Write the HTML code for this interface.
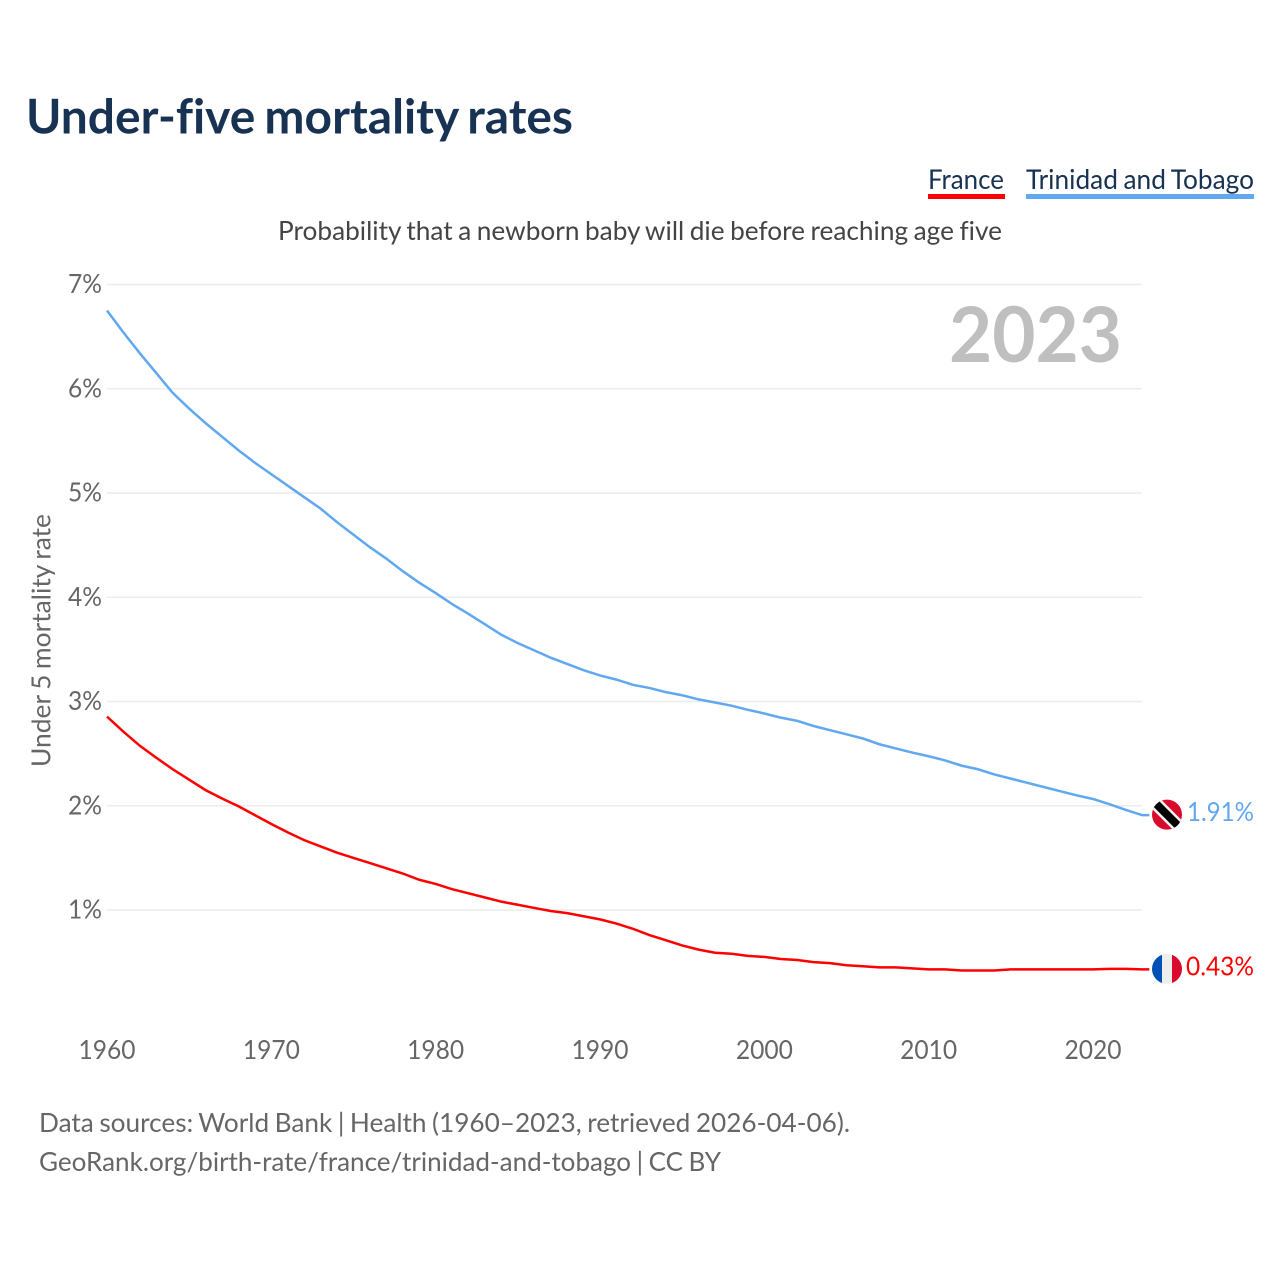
<!DOCTYPE html>
<html lang="en">
<head>
<meta charset="utf-8">
<title>Under-five mortality rates</title>
<style>
html,body{margin:0;padding:0;background:#fff}
svg{display:block}
text{font-family:"Lato","Carlito","Liberation Sans",sans-serif;font-variant-ligatures:none;font-feature-settings:"liga" 0,"clig" 0;word-spacing:-1.2px}
#title-text{word-spacing:-2.5px}
</style>
</head>
<body>
<svg id="chart" xmlns="http://www.w3.org/2000/svg" width="1280" height="1280" viewBox="0 0 1280 1280">
  <defs>
    <clipPath id="clip-tt"><circle cx="0" cy="0" r="15"/></clipPath>
    <clipPath id="clip-fr"><circle cx="0" cy="0" r="15"/></clipPath>
  </defs>
  <rect x="0" y="0" width="1280" height="1280" fill="#fff"/>
  <text id="title-text" x="26" y="133.5" font-size="48" font-weight="700" fill="#173252" textLength="547" lengthAdjust="spacingAndGlyphs">Under-five mortality rates</text>

  <g>
    <text x="928" y="189" font-size="27.5" fill="#173252" textLength="76" lengthAdjust="spacingAndGlyphs">France</text>
    <rect x="928" y="194" width="77" height="5" fill="#ff0000"/>
  </g>
  <g>
    <text x="1026" y="189" font-size="27.5" fill="#173252" textLength="228" lengthAdjust="spacingAndGlyphs">Trinidad and Tobago</text>
    <rect x="1026" y="194" width="228" height="5" fill="#60a8f0"/>
  </g>

  <text x="278" y="240" font-size="26.5" fill="#444" textLength="724" lengthAdjust="spacingAndGlyphs">Probability that a newborn baby will die before reaching age five</text>

  <g id="grid"></g>
  <g id="yticks"></g>
  <g id="xticks"></g>

  <text transform="translate(50.5,767) rotate(-90)" x="0" y="0" font-size="26.5" fill="#666" textLength="253" lengthAdjust="spacingAndGlyphs">Under 5 mortality rate</text>
  <text x="949" y="362" font-size="77" font-weight="700" fill="#bfbfbf" textLength="173" lengthAdjust="spacingAndGlyphs">2023</text>

  <g id="series"></g>

  <g id="flag-tt">
    <g clip-path="url(#clip-tt)">
      <rect x="-16" y="-16" width="32" height="32" fill="#da0a2c"/>
      <line x1="-18" y1="-18" x2="18" y2="18" stroke="#f2f2f2" stroke-width="13"/>
      <line x1="-18" y1="-18" x2="18" y2="18" stroke="#000" stroke-width="8"/>
    </g>
  </g>
  <g id="flag-fr">
    <g clip-path="url(#clip-fr)">
      <rect x="-15" y="-15" width="10" height="30" fill="#0051b5"/>
      <rect x="-5" y="-15" width="10" height="30" fill="#eeeeee"/>
      <rect x="5" y="-15" width="10" height="30" fill="#da0a2c"/>
    </g>
  </g>

  <g id="endlabels"></g>

  <text x="39" y="1132" font-size="26.5" fill="#666" textLength="811" lengthAdjust="spacingAndGlyphs">Data sources: World Bank | Health (1960–2023, retrieved 2026-04-06).</text>
  <text x="39" y="1171" font-size="26.5" fill="#666" textLength="682" lengthAdjust="spacingAndGlyphs">GeoRank.org/birth-rate/france/trinidad-and-tobago | CC BY</text>
</svg>
<script>
var years = [1960,1961,1962,1963,1964,1965,1966,1967,1968,1969,1970,1971,1972,1973,1974,1975,1976,1977,1978,1979,1980,1981,1982,1983,1984,1985,1986,1987,1988,1989,1990,1991,1992,1993,1994,1995,1996,1997,1998,1999,2000,2001,2002,2003,2004,2005,2006,2007,2008,2009,2010,2011,2012,2013,2014,2015,2016,2017,2018,2019,2020,2021,2022,2023];
var trinidadValues = [6.75,6.54,6.34,6.15,5.96,5.81,5.67,5.54,5.41,5.29,5.18,5.07,4.96,4.85,4.72,4.60,4.48,4.37,4.25,4.14,4.04,3.935,3.84,3.74,3.64,3.56,3.49,3.42,3.36,3.30,3.25,3.21,3.16,3.13,3.09,3.06,3.02,2.99,2.96,2.92,2.885,2.845,2.815,2.765,2.725,2.685,2.645,2.59,2.55,2.51,2.475,2.435,2.385,2.35,2.30,2.26,2.22,2.18,2.14,2.10,2.065,2.015,1.96,1.91];
var franceValues = [2.855,2.71,2.575,2.46,2.35,2.25,2.15,2.07,1.995,1.91,1.825,1.745,1.67,1.61,1.55,1.50,1.45,1.40,1.35,1.29,1.25,1.20,1.16,1.12,1.08,1.05,1.02,0.99,0.97,0.94,0.91,0.87,0.82,0.76,0.71,0.66,0.62,0.59,0.58,0.56,0.55,0.53,0.52,0.50,0.49,0.47,0.46,0.45,0.45,0.44,0.43,0.43,0.42,0.42,0.42,0.43,0.43,0.43,0.43,0.43,0.43,0.435,0.435,0.43];
var yTickValues = [1,2,3,4,5,6,7];
var yTickLabels = ["1%","2%","3%","4%","5%","6%","7%"];
var xTickValues = [1960,1970,1980,1990,2000,2010,2020];
var xTickLabels = ["1960","1970","1980","1990","2000","2010","2020"];
var endLabelTexts = ["1.91%","0.43%"];

var NS = "http://www.w3.org/2000/svg";
function xScale(year){ return 107 + (year - 1960) * (986 / 60); }
function yScale(value){ return 284.5 + (7 - value) * (625.5 / 6); }
function make(tag, parent){
  var el = document.createElementNS(NS, tag);
  document.getElementById(parent).appendChild(el);
  return el;
}

yTickValues.forEach(function(v, i){
  var g = make("line", "grid");
  
  
  g.setAttribute("x1", xScale(1960));
  g.setAttribute("x2", xScale(2023) - 0.5);
  g.setAttribute("y1", yScale(v));
  g.setAttribute("y2", yScale(v));
  g.setAttribute("stroke", "#ececec");
  g.setAttribute("stroke-width", "1.5");

  var t = make("text", "yticks");
  
  
  t.setAttribute("x", 68);
  t.setAttribute("y", yScale(v) + 8.5);
  t.setAttribute("font-size", "26.5");
  t.setAttribute("fill", "#666");
  t.setAttribute("textLength", "34");
  t.setAttribute("lengthAdjust", "spacingAndGlyphs");
  t.textContent = yTickLabels[i];
});

xTickValues.forEach(function(v, i){
  var t = make("text", "xticks");
  
  
  t.setAttribute("x", xScale(v) - 28.5);
  t.setAttribute("y", 1059);
  t.setAttribute("font-size", "26.5");
  t.setAttribute("fill", "#666");
  t.setAttribute("textLength", "57");
  t.setAttribute("lengthAdjust", "spacingAndGlyphs");
  t.textContent = xTickLabels[i];
});

function linePath(values){
  var d = "";
  values.forEach(function(v, i){
    d += (i ? "L" : "M") + xScale(years[i]).toFixed(2) + " " + yScale(v).toFixed(2);
  });
  var last = values[values.length - 1];
  d += "L" + (xScale(years[years.length - 1]) + 7).toFixed(2) + " " + yScale(last).toFixed(2);
  return d;
}

var lineTT = make("path", "series");


lineTT.setAttribute("d", linePath(trinidadValues));
lineTT.setAttribute("fill", "none");
lineTT.setAttribute("stroke", "#60a8f0");
lineTT.setAttribute("stroke-width", "2.5");

var lineFR = make("path", "series");


lineFR.setAttribute("d", linePath(franceValues));
lineFR.setAttribute("fill", "none");
lineFR.setAttribute("stroke", "#ff0000");
lineFR.setAttribute("stroke-width", "2.5");

var yTT = yScale(trinidadValues[trinidadValues.length - 1]);
var yFR = yScale(franceValues[franceValues.length - 1]);
document.getElementById("flag-tt").setAttribute("transform", "translate(1167," + (yTT - 0.5) + ")");
document.getElementById("flag-fr").setAttribute("transform", "translate(1167," + (yFR - 0.5) + ")");

var labelTT = make("text", "endlabels");


labelTT.setAttribute("x", 1187);
labelTT.setAttribute("y", yTT + 6);
labelTT.setAttribute("font-size", "26.5");
labelTT.setAttribute("fill", "#60a8f0");
labelTT.setAttribute("textLength", "67");
labelTT.setAttribute("lengthAdjust", "spacingAndGlyphs");
labelTT.textContent = endLabelTexts[0];

var labelFR = make("text", "endlabels");


labelFR.setAttribute("x", 1186);
labelFR.setAttribute("y", yFR + 6);
labelFR.setAttribute("font-size", "26.5");
labelFR.setAttribute("fill", "#ff0000");
labelFR.setAttribute("textLength", "68");
labelFR.setAttribute("lengthAdjust", "spacingAndGlyphs");
labelFR.textContent = endLabelTexts[1];
</script>
</body>
</html>
